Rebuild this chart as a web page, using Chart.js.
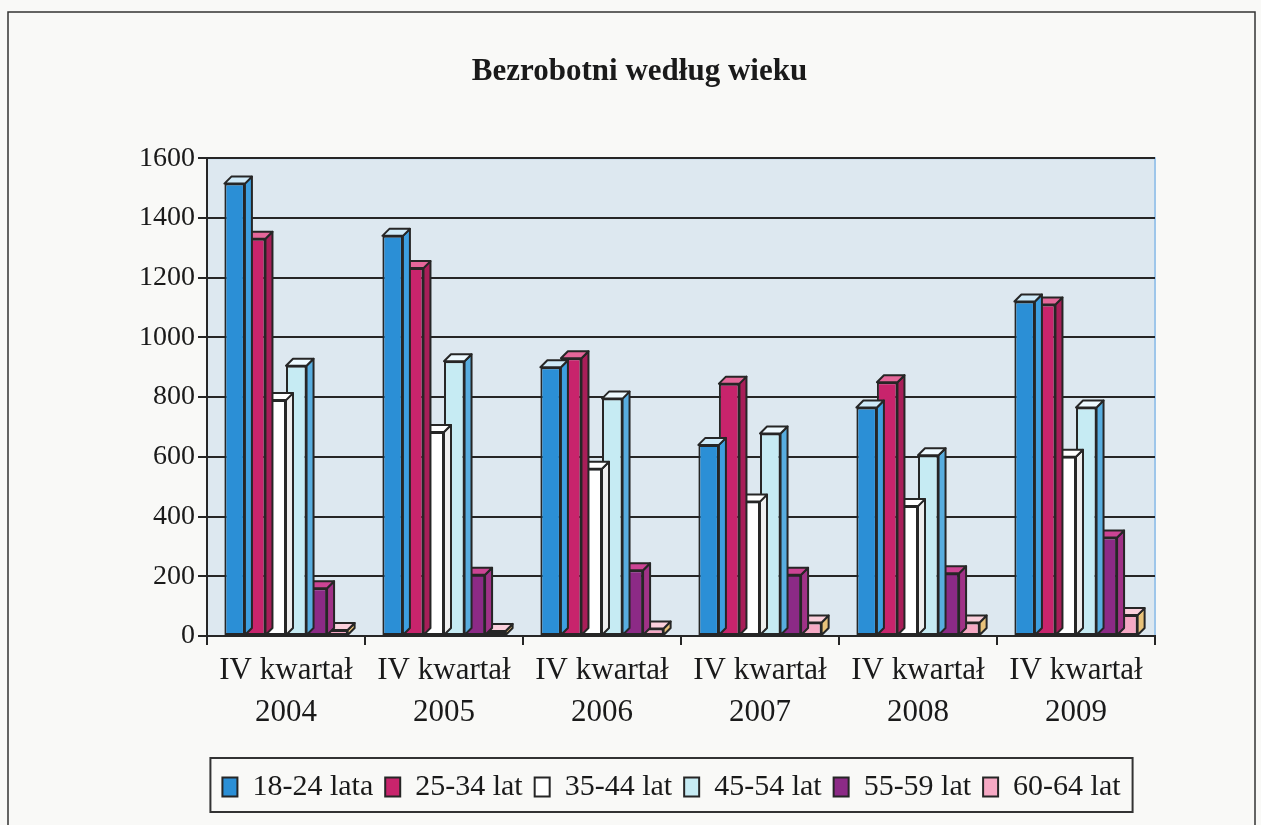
<!DOCTYPE html>
<html>
<head>
<meta charset="utf-8">
<script src="https://cdn.jsdelivr.net/npm/chart.js@4/dist/chart.umd.min.js"></script>
<style>
  html, body { margin: 0; padding: 0; background: #f9f9f7; }
  #wrap { width: 1261px; height: 825px; position: relative; }
</style>
</head>
<body>
<div id="wrap"><canvas id="chart" width="1261" height="825"></canvas></div>
<script>
// Bezrobotni według wieku - 3D-looking grouped bars, values in thousands

const categories = [
  ['IV kwartał', '2004'],
  ['IV kwartał', '2005'],
  ['IV kwartał', '2006'],
  ['IV kwartał', '2007'],
  ['IV kwartał', '2008'],
  ['IV kwartał', '2009']
];
const seriesNames = ['18-24 lata', '25-34 lat', '35-44 lat', '45-54 lat', '55-59 lat', '60-64 lat'];

const age1824 = [1515, 1340, 900, 640, 765, 1120];
const age2534 = [1330, 1232, 930, 845, 850, 1110];
const age3544 = [790, 683, 560, 450, 435, 600];
const age4554 = [905, 920, 795, 678, 605, 765];
const age5559 = [160, 205, 220, 205, 210, 330];
const age6064 = [20, 17, 25, 45, 45, 70];

const yTicks = [0, 200, 400, 600, 800, 1000, 1200, 1400, 1600];

// colours: front, top, side
const fronts = ['#2b8fd6', '#c8246c', '#ffffff', '#c6ebf3', '#8c2a86', '#f6a9c4'];
const tops   = ['#cfeaf8', '#e5679a', '#ffffff', '#eefaff', '#cc4494', '#fbd0dc'];
const sides  = ['#3d9fe0', '#a81e58', '#eeeeee', '#58addf', '#a03287', '#e8c27a'];

const DEPTH = 7;
const INK = '#262626';
const SERIF = '"Liberation Serif", "Times New Roman", serif';

const allSeries = [age1824, age2534, age3544, age4554, age5559, age6064];

const frame = {
  id: 'frame',
  afterLayout(chart) {
    // title and legend sit a bit right of the default centre
    chart.titleBlock.left += 52; chart.titleBlock.right += 52;
    chart.legend.left += 84; chart.legend.right += 84;
  },
  beforeDraw(chart) {
    const { ctx, chartArea: a } = chart;
    ctx.save();
    // outer page frame
    ctx.strokeStyle = '#333';
    ctx.lineWidth = 1.5;
    ctx.strokeRect(8, 12, 1247, 830);
    // plot back wall
    ctx.fillStyle = '#dde8f0';
    ctx.fillRect(a.left, a.top, a.right - a.left, a.bottom - a.top);
    ctx.strokeStyle = '#9ec6ea';
    ctx.lineWidth = 2;
    ctx.strokeRect(a.left, a.top, a.right - a.left, a.bottom - a.top);
    ctx.restore();
  },
  afterDatasetDraw(chart, args) {
    const i = args.index;
    const ctx = chart.ctx;
    ctx.save();
    ctx.strokeStyle = INK;
    ctx.lineWidth = 2;
    ctx.lineJoin = 'round';
    args.meta.data.forEach(el => {
      const { x, y, base, width } = el.getProps(['x', 'y', 'base', 'width'], true);
      const l = x - width / 2, r = x + width / 2;
      // side
      ctx.beginPath();
      ctx.moveTo(r, y); ctx.lineTo(r + DEPTH, y - DEPTH);
      ctx.lineTo(r + DEPTH, base - DEPTH); ctx.lineTo(r, base);
      ctx.closePath();
      ctx.fillStyle = sides[i]; ctx.fill(); ctx.stroke();
      // top
      ctx.beginPath();
      ctx.moveTo(l, y); ctx.lineTo(l + DEPTH, y - DEPTH);
      ctx.lineTo(r + DEPTH, y - DEPTH); ctx.lineTo(r, y);
      ctx.closePath();
      ctx.fillStyle = tops[i]; ctx.fill(); ctx.stroke();
    });
    ctx.restore();
  },
  afterDraw(chart) {
    const lg = chart.legend;
    const w = lg.lineWidths[0];
    const cx = (lg.left + lg.right) / 2;
    const ctx = chart.ctx;
    ctx.save();
    ctx.strokeStyle = '#333';
    ctx.lineWidth = 2;
    ctx.strokeRect(cx - w / 2 - 6, lg.top - 2, w + 12, lg.height + 2);
    ctx.restore();
  }
};

new Chart(document.getElementById('chart'), {
  type: 'bar',
  data: {
    labels: categories,
    datasets: allSeries.map((d, i) => ({
      label: seriesNames[i],
      data: d,
      backgroundColor: fronts[i],
      borderColor: INK,
      borderWidth: 2,
      borderSkipped: false,
      categoryPercentage: 0.78,
      barPercentage: 1.0
    }))
  },
  options: {
    responsive: false,
    animation: false,
    layout: { padding: { left: 20, right: 106, top: 0, bottom: 13 } },
    scales: {
      x: {
        offset: true,
        grid: { display: true, drawOnChartArea: false, offset: true, tickLength: 9, color: INK, lineWidth: 2 },
        border: { display: true, color: INK, width: 2 },
        ticks: { color: '#1a1a1a', padding: 5, font: { family: SERIF, size: 31, lineHeight: 1.35 }, maxRotation: 0 },
        afterFit(s) { s.height = 124; }
      },
      y: {
        min: 0,
        max: 1600,
        afterBuildTicks(s) { s.ticks = yTicks.map(v => ({ value: v })); },
        grid: { color: INK, lineWidth: 2, tickLength: 9, tickColor: INK },
        border: { display: true, color: INK, width: 2 },
        ticks: { color: '#1a1a1a', padding: 3, font: { family: SERIF, size: 28 }, callback: v => String(v) },
        afterFit(s) { s.width = 187; }
      }
    },
    plugins: {
      title: {
        display: true,
        text: 'Bezrobotni według wieku',
        color: '#1a1a1a',
        font: { family: SERIF, size: 31, weight: 'bold' },
        padding: { top: 53, bottom: 68 }
      },
      legend: {
        position: 'bottom',
        labels: {
          color: '#1a1a1a',
          font: { family: SERIF, size: 30 },
          boxWidth: 15,
          boxHeight: 19,
          padding: 12,
          generateLabels(chart) {
            return chart.data.datasets.map((ds, i) => ({
              text: ds.label,
              fillStyle: fronts[i],
              strokeStyle: INK,
              lineWidth: 2,
              fontColor: '#1a1a1a',
              datasetIndex: i,
              hidden: false
            }));
          }
        }
      },
      tooltip: { enabled: false }
    }
  },
  plugins: [frame]
});
</script>
</body>
</html>
